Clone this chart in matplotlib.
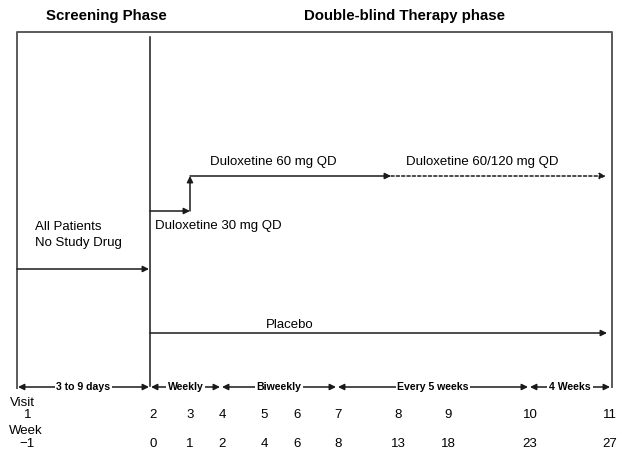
"""Study design schematic: screening phase followed by double-blind therapy."""

import matplotlib
matplotlib.use("Agg")
import matplotlib.pyplot as plt

plt.rcParams["font.family"] = ["Liberation Sans", "DejaVu Sans"]

# data
visits = ["2", "3", "4", "5", "6", "7", "8", "9", "10", "11"]
weeks = ["0", "1", "2", "4", "6", "8", "13", "18", "23", "27"]
intervals = ["3 to 9 days", "Weekly", "Biweekly", "Every 5 weeks", "4 Weeks"]
phases = ["Screening Phase", "Double-blind Therapy phase"]
arms = ["Duloxetine 30 mg QD", "Duloxetine 60 mg QD", "Duloxetine 60/120 mg QD", "Placebo"]

# layout (pixel space of a 619x453 canvas)
visit_x = [153, 190, 222, 264, 297, 338, 398, 448, 530, 610]
bounds = [17, 150, 221, 337, 529, 611]
LEFT, MID, RIGHT, TOP, BOT = 17, 150, 612, 32, 387
INK = "#1a1a1a"
EDGE = "#5a5a5a"
FS = 9.5

fig = plt.figure(figsize=(6.19, 4.53), dpi=100)
ax = fig.add_axes([0, 0, 1, 1])
ax.set_xlim(0, 619)
ax.set_ylim(453, 0)
ax.axis("off")


def arrow(x0, y0, x1, y1, style="-|>", ls="-"):
    ax.annotate("", xy=(x1, y1), xytext=(x0, y0),
                arrowprops=dict(arrowstyle=style, color=INK, lw=1.1, linestyle=ls,
                                mutation_scale=9, shrinkA=0, shrinkB=0))


# frame
ax.plot([LEFT, LEFT, RIGHT, RIGHT], [BOT + 1, TOP, TOP, BOT], color=EDGE, lw=1.4)
ax.plot([MID, MID], [37, BOT - 1], color=INK, lw=1.1)

ax.text(106, 16, phases[0], ha="center", va="center", fontsize=10.8, fontweight="bold")
ax.text(405, 16, phases[1], ha="center", va="center", fontsize=10.8, fontweight="bold")

# screening
arrow(LEFT, 269, MID - 1, 269)
ax.text(35, 227, "All Patients", ha="left", va="center", fontsize=FS)
ax.text(35, 243, "No Study Drug", ha="left", va="center", fontsize=FS)

# duloxetine arm
arrow(MID, 211, 190, 211)
arrow(190, 211, 190, 176)
arrow(190, 176, 391, 176)
arrow(391, 176, 606, 176, ls=(0, (2, 1.5)))
ax.text(155, 226, arms[0], ha="left", va="center", fontsize=FS)
ax.text(210, 162, arms[1], ha="left", va="center", fontsize=FS)
ax.text(406, 162, arms[2], ha="left", va="center", fontsize=FS)

# placebo arm
arrow(MID, 333, 607, 333)
ax.text(290, 325, arms[3], ha="center", va="center", fontsize=FS)

# interval arrows
for lab, a, b in zip(intervals, bounds[:-1], bounds[1:]):
    arrow(a + 1, BOT, b - 1, BOT, style="<|-|>")
    ax.text((a + b) / 2, BOT, lab, ha="center", va="center", fontsize=7.6,
            fontweight="bold", bbox=dict(facecolor="white", edgecolor="none", pad=1.2))

# visit / week rows
ax.text(22, 403, "Visit", ha="center", va="center", fontsize=FS)
ax.text(28, 415, "1", ha="center", va="center", fontsize=FS)
ax.text(26, 431, "Week", ha="center", va="center", fontsize=FS)
ax.text(27, 444, "\u22121", ha="center", va="center", fontsize=FS)
for x, v, w in zip(visit_x, visits, weeks):
    ax.text(x, 415, v, ha="center", va="center", fontsize=FS)
    ax.text(x, 444, w, ha="center", va="center", fontsize=FS)

fig.savefig("out.png", dpi=100)
